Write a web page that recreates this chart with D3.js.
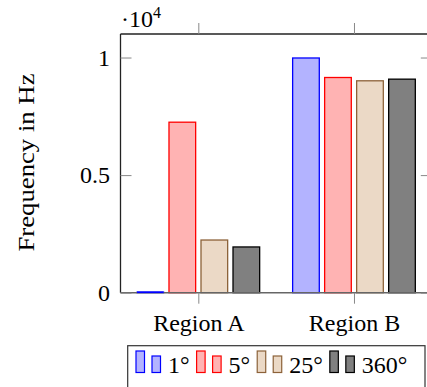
<!DOCTYPE html>
<html>
<head>
<meta charset="utf-8">
<script src="https://cdn.jsdelivr.net/npm/d3@7"></script>
<style>
  body { margin: 0; background: #fff; }
  svg { display: block; }
  svg text { font-family: "Liberation Serif", "Tinos", "Times New Roman", "DejaVu Serif", serif !important; }
</style>
</head>
<body>
<svg id="chart" width="427" height="387"></svg>
<script>
// data
const regions = ["Region A", "Region B"];
const series = ["1°", "5°", "25°", "360°"];
const values1 = [20, 9980];
const values5 = [7250, 9150];
const values25 = [2240, 9010];
const values360 = [1945, 9080];
const yTicks = [0, 5000, 10000];
const yTickLabels = ["0", "0.5", "1"];

const fills = ["#b3b3ff", "#ffb3b3", "#ebd9c6", "#808080"];
const strokes = ["#0000ff", "#ff0000", "#8c6239", "#000000"];

const svg = d3.select("#chart");
const plot = { left: 120.5, right: 431.8, top: 34, bottom: 292.7 };
const fontSize = 24;

const x = d3.scalePoint().domain(regions).range([plot.left, plot.right]).padding(0.5);
const xs = d3.scaleBand().domain(series).range([-64, 64])
    .paddingInner(0.167).paddingOuter(0.083);
const y = d3.scaleLinear().domain([0, 11000]).range([plot.bottom, plot.top]);

const allValues = [values1, values5, values25, values360];
const rows = [];
series.forEach((s, i) => {
    regions.forEach((r, j) => rows.push({ s, i, r, v: allValues[i][j] }));
});

// bars
svg.append("g").selectAll("rect")
    .data(rows)
    .join("rect")
    .attr("x", d => x(d.r) + xs(d.s))
    .attr("width", xs.bandwidth())
    .attr("y", d => y(d.v))
    .attr("height", d => plot.bottom - y(d.v))
    .attr("fill", d => fills[d.i])
    .attr("stroke", d => strokes[d.i])
    .attr("stroke-width", 1.3);

// axis box
const frame = svg.append("g").attr("fill", "none");
frame.append("line").attr("x1", plot.left).attr("x2", plot.left).attr("y1", plot.top).attr("y2", plot.bottom)
    .attr("stroke", "#222").attr("stroke-width", 1.3);
frame.append("line").attr("x1", plot.left).attr("x2", plot.right).attr("y1", plot.top).attr("y2", plot.top)
    .attr("stroke", "#222").attr("stroke-width", 1.3);
frame.append("line").attr("x1", plot.right).attr("x2", plot.right).attr("y1", plot.top).attr("y2", plot.bottom)
    .attr("stroke", "#222").attr("stroke-width", 1.3);
frame.append("line").attr("x1", plot.left).attr("x2", plot.right).attr("y1", plot.bottom).attr("y2", plot.bottom)
    .attr("stroke", "#666").attr("stroke-width", 1.6);

// redraw the near-zero blue bar on top of the baseline
svg.append("line")
    .attr("x1", x("Region A") + xs("1°")).attr("x2", x("Region A") + xs("1°") + xs.bandwidth())
    .attr("y1", y(values1[0])).attr("y2", y(values1[0]))
    .attr("stroke", strokes[0]).attr("stroke-width", 1.6);

// y axis (ticks inside, both sides)
const yAxis = d3.axisLeft(y).tickValues(yTicks).tickSize(-11).tickPadding(10.5)
    .tickFormat((d, i) => yTickLabels[i]);
svg.append("g").attr("transform", `translate(${plot.left},0)`).call(yAxis)
    .call(g => g.select(".domain").remove())
    .call(g => g.selectAll("line").attr("stroke", "#888"))
    .call(g => g.selectAll("text").attr("font-size", fontSize).attr("fill", "#000"));
svg.append("g").attr("transform", `translate(${plot.right},0)`)
    .call(d3.axisRight(y).tickValues(yTicks).tickSize(-11).tickFormat(""))
    .call(g => g.select(".domain").remove())
    .call(g => g.selectAll("line").attr("stroke", "#888"));

// x axis ticks (outside, bottom and top)
svg.append("g").attr("transform", `translate(0,${plot.bottom})`)
    .call(d3.axisBottom(x).tickSize(11).tickPadding(10))
    .call(g => g.select(".domain").remove())
    .call(g => g.selectAll("line").attr("stroke", "#888"))
    .call(g => g.selectAll("text").attr("font-size", fontSize).attr("fill", "#000"));
svg.append("g").attr("transform", `translate(0,${plot.top})`)
    .call(d3.axisTop(x).tickSize(11).tickFormat(""))
    .call(g => g.select(".domain").remove())
    .call(g => g.selectAll("line").attr("stroke", "#888"));

// scale note
const note = svg.append("text").attr("x", 121).attr("y", 27).attr("font-size", fontSize);
note.append("tspan").text("·10");
note.append("tspan").attr("font-size", 16).attr("dy", -9).text("4");

// y label
svg.append("text")
    .attr("transform", `translate(34,162.5) rotate(-90)`)
    .attr("text-anchor", "middle")
    .attr("font-size", fontSize)
    .attr("textLength", 178)
    .attr("lengthAdjust", "spacingAndGlyphs")
    .text("Frequency in Hz");

// legend
const legend = svg.append("g");
legend.append("rect").attr("x", 127.7).attr("y", 345.7).attr("width", 297.3).attr("height", 60)
    .attr("fill", "#fff").attr("stroke", "#333").attr("stroke-width", 1.2);
let lx = 136;
series.forEach((s, i) => {
    legend.append("rect").attr("x", lx).attr("y", 351).attr("width", 8.5).attr("height", 21.5)
        .attr("fill", fills[i]).attr("stroke", strokes[i]).attr("stroke-width", 1.2);
    legend.append("rect").attr("x", lx + 16).attr("y", 356).attr("width", 8.5).attr("height", 16.5)
        .attr("fill", fills[i]).attr("stroke", strokes[i]).attr("stroke-width", 1.2);
    const t = legend.append("text").attr("x", lx + 32).attr("y", 373)
        .attr("font-size", fontSize).text(s);
    lx += 32 + t.node().getComputedTextLength() + 7;
});
</script>
</body>
</html>
